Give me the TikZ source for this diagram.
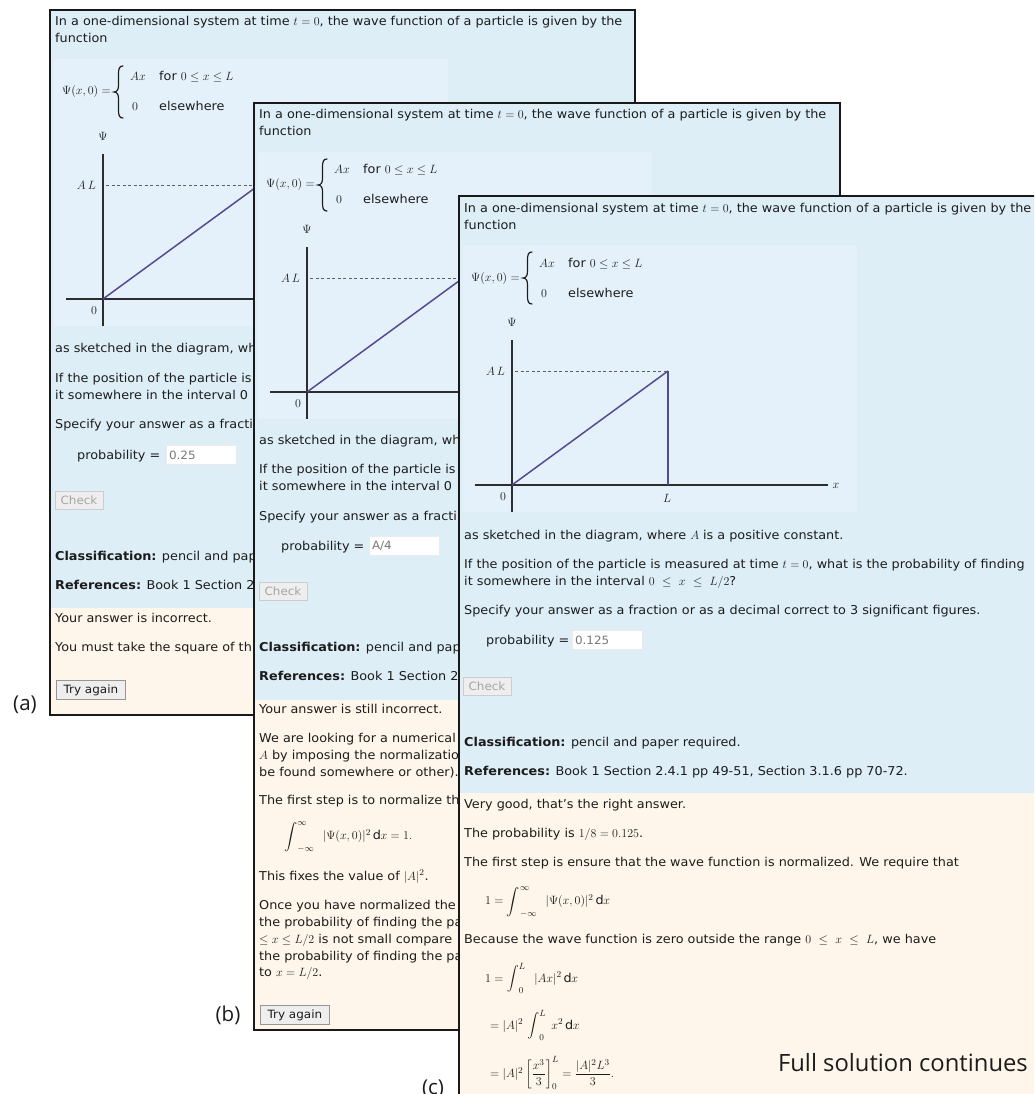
\documentclass[tikz,border=0pt]{standalone}
\usepackage{amsmath}
\usepackage{fontspec}
\setmainfont{DejaVu Sans}[FakeStretch=1.05]
\newfontfamily\labfont{Open Sans}
\definecolor{ink}{RGB}{28,28,28}
\definecolor{qblue}{RGB}{221,238,247}
\definecolor{qinner}{RGB}{229,241,250}
\definecolor{qcream}{RGB}{254,246,234}
\definecolor{wave}{RGB}{84,74,146}
\definecolor{dashc}{RGB}{95,95,95}
\definecolor{axisc}{RGB}{45,45,45}
\definecolor{btnfill}{RGB}{238,238,238}
\definecolor{btnline}{RGB}{150,150,150}
\definecolor{chkline}{RGB}{205,205,205}
\definecolor{chktext}{RGB}{165,165,165}
\definecolor{inptext}{RGB}{120,120,120}
\newcommand\qsz{\fontsize{12.2}{17}\selectfont}
\newcommand\bsz{\fontsize{11.4}{13}\selectfont}
\newcommand\Bint[1]{\mathop{\vcenter{\hbox{\scalebox{#1}{$\displaystyle\int$}}}}\nolimits}
\tikzset{
  txt/.style={anchor=base west, inner sep=0pt, font=\qsz, text=ink},
  lbl/.style={inner sep=0pt, font=\qsz, text=ink},
  mathline/.style={anchor=west, inner sep=0pt, text=ink, font=\qsz},
  panelframe/.style={draw=black!90, line width=1.7pt},
  axisline/.style={draw=axisc, line width=1.3pt},
  waveline/.style={draw=wave, line width=1.5pt},
  dashline/.style={draw=dashc, line width=0.8pt, dash pattern=on 3pt off 2.5pt},
  braceline/.style={draw=ink, line width=1.2pt, line cap=round},
  inputbox/.style={fill=white, draw=black!8, line width=0.4pt, minimum width=70pt, minimum height=19pt, inner sep=0pt},
  inptxt/.style={anchor=west, inner sep=0pt, font=\bsz, text=inptext},
  chkbtn/.style={fill=btnfill, draw=chkline, line width=0.8pt, minimum width=48pt, minimum height=18pt, inner sep=0pt, font=\bsz, text=chktext},
  trybtn/.style={fill=btnfill, draw=btnline, line width=0.8pt, minimum width=69pt, minimum height=19pt, inner sep=0pt, font=\bsz, text=ink},
  biglab/.style={inner sep=0pt, font=\labfont\fontsize{20.5}{24}\selectfont, text=ink},
}
\newcommand\qtop[1]{%
  \fill[qinner] (4,49) rectangle (398,316);
  \node[txt] (#1t1) at (5,16) {In a one-dimensional system at time $t=0$, the wave function of a particle is given by the};
  \node[txt] (#1t2) at (5,33) {function};
  \node[mathline] (#1psi) at (12,82) {$\Psi(x,0) =$};
  \draw[braceline] (73,56) .. controls (69,56) and (68.5,59) .. (68.5,65) -- (68.5,75)
     .. controls (68.5,79) and (67.5,82) .. (64,82)
     .. controls (67.5,82) and (68.5,85) .. (68.5,89) -- (68.5,99)
     .. controls (68.5,105) and (69,108) .. (73,108);
  \node[txt] (#1ax) at (80,71) {$Ax$};
  \node[txt] (#1for) at (109,71) {for $0\le x\le L$};
  \node[txt] (#1z) at (82,101) {$0$};
  \node[txt] (#1else) at (109,101) {elsewhere};
  \node[lbl] (#1Psi) at (53,126) {$\Psi$};
  \coordinate (#1top) at (53,144);
  \coordinate (#1bot) at (53,316);
  \coordinate (#1left) at (16,289);
  \coordinate (#1right) at (369,289);
  \coordinate (#1o) at (53,289);
  \coordinate (#1peak) at (209,175);
  \coordinate (#1dash) at (56,175);
  \draw[axisline] (#1top) -- (#1bot);
  \draw[axisline] (#1left) -- (#1right);
  \draw[dashline] (#1dash) -- (#1peak);
  \draw[waveline] (#1o) -- (#1peak);
  \node[lbl, anchor=east] (#1AL) at (46,175) {$A\,L$};
  \node[lbl] (#1zero) at (44,301) {$0$};
}
\begin{document}
\begin{tikzpicture}[x=1pt,y=-1pt]
\clip (0,0) rectangle (1034,1094);
\fill[white] (0,0) rectangle (1034,1094);

% ---------------- panel (a)
\begin{scope}[shift={(50,10)}]
  \fill[qblue] (0,0) rectangle (585,598);
  \fill[qcream] (0,598) rectangle (585,705);
  \qtop{a}
  \node[txt] (a3) at (5,342) {as sketched in the diagram, wh};
  \node[txt] (a4) at (5,372) {If the position of the particle is};
  \node[txt] (a5) at (5,389) {it somewhere in the interval 0};
  \node[txt] (a6) at (5,418) {Specify your answer as a fracti};
  \node[txt] (a7) at (27,449) {probability =};
  \node[inputbox] (ainp) at (151,445) {};
  \node[inptxt] (ainpt) at ([xshift=3pt]ainp.west) {0.25};
  \node[chkbtn] (achk) at (29,490) {Check};
  \node[txt] (a8) at (5,550) {\textbf{Classification:} pencil and pap};
  \node[txt] (a9) at (5,579) {\textbf{References:} Book 1 Section 2};
  \node[txt] (a10) at (5,612) {Your answer is incorrect.};
  \node[txt] (a11) at (5,641) {You must take the square of th};
  \node[trybtn, anchor=west] (atry) at (6,680) {Try again};
  \draw[panelframe] (0,0) rectangle (585,705);
\end{scope}

% ---------------- panel (b)
\begin{scope}[shift={(254,103)}]
  \fill[qblue] (0,0) rectangle (586,597);
  \fill[qcream] (0,597) rectangle (586,927);
  \qtop{b}
  \node[txt] (b3) at (5,341) {as sketched in the diagram, wh};
  \node[txt] (b4) at (5,370) {If the position of the particle is};
  \node[txt] (b5) at (5,387) {it somewhere in the interval 0};
  \node[txt] (b6) at (5,417) {Specify your answer as a fracti};
  \node[txt] (b7) at (27,447) {probability =};
  \node[inputbox] (binp) at (150,443) {};
  \node[inptxt] (binpt) at ([xshift=3pt]binp.west) {A/4};
  \node[chkbtn] (bchk) at (29,488) {Check};
  \node[txt] (b8) at (5,548) {\textbf{Classification:} pencil and pap};
  \node[txt] (b9) at (5,577) {\textbf{References:} Book 1 Section 2};
  \node[txt] (b10) at (5,610) {Your answer is still incorrect.};
  \node[txt] (b11) at (5,639) {We are looking for a numerical};
  \node[txt] (b12) at (5,656) {$A$ by imposing the normalizatio};
  \node[txt] (b13) at (5,673) {be found somewhere or other).};
  \node[txt] (b14) at (5,701) {The first step is to normalize th};
  \node[mathline] (beq) at (30,734) {$\Bint{1.1}_{-\infty}^{\infty}\;\;|\Psi(x,0)|^2\,\mathrm{d}x = 1.$};
  \node[txt] (b15) at (5,777) {This fixes the value of $|A|^2$.};
  \node[txt] (b16) at (5,806) {Once you have normalized the};
  \node[txt] (b17) at (5,823) {the probability of finding the pa};
  \node[txt] (b18) at (5,840) {$\le x \le L/2$ is not small compare};
  \node[txt] (b19) at (5,857) {the probability of finding the pa};
  \node[txt] (b20) at (5,873) {to $x = L/2$.};
  \node[trybtn, anchor=west] (btry) at (6,912) {Try again};
  \draw[panelframe] (0,0) rectangle (586,927);
\end{scope}

% ---------------- panel (c)
\begin{scope}[shift={(459,196)}]
  \fill[qblue] (0,0) rectangle (600,597);
  \fill[qcream] (0,597) rectangle (600,920);
  \qtop{c}
  \coordinate (cfoot) at (209,289);
  \draw[waveline] (cpeak) -- (cfoot);
  \node[lbl] (cL) at (208,302) {$L$};
  \node[lbl] (cx) at (377,290) {$x$};
  \node[txt] (c3) at (5,343) {as sketched in the diagram, where $A$ is a positive constant.};
  \node[txt] (c4) at (5,372) {If the position of the particle is measured at time $t=0$, what is the probability of finding};
  \node[txt] (c5) at (5,389) {it somewhere in the interval $0\ \le\ x\ \le\ L/2$?};
  \node[txt] (c6) at (5,418) {Specify your answer as a fraction or as a decimal correct to 3 significant figures.};
  \node[txt] (c7) at (27,448) {probability =};
  \node[inputbox] (cinp) at (148,444) {};
  \node[inptxt] (cinpt) at ([xshift=3pt]cinp.west) {0.125};
  \node[chkbtn] (cchk) at (28,490) {Check};
  \node[txt] (c8) at (5,550) {\textbf{Classification:} pencil and paper required.};
  \node[txt] (c9) at (5,579) {\textbf{References:} Book 1 Section 2.4.1 pp 49-51, Section 3.1.6 pp 70-72.};
  \node[txt] (c10) at (5,612) {Very good, that's the right answer.};
  \node[txt] (c11) at (5,641) {The probability is $1/8 = 0.125$.};
  \node[txt] (c12) at (5,670) {The first step is ensure that the wave function is normalized. We require that};
  \node[mathline] (ceq1) at (26,706) {$1 = \Bint{1.1}_{-\infty}^{\infty}\;\;|\Psi(x,0)|^2\,\mathrm{d}x$};
  \node[txt] (c13) at (5,747) {Because the wave function is zero outside the range $0\ \le\ x\ \le\ L$, we have};
  \node[mathline] (ceq2) at (26,782) {$1 = \Bint{1.0}_{0}^{L}\;\;|Ax|^2\,\mathrm{d}x$};
  \node[mathline] (ceq3) at (31,829) {$= |A|^2\,\Bint{1.0}_{0}^{L}\;x^2\,\mathrm{d}x$};
  \node[mathline] (ceq4) at (31,877) {$= |A|^2\left[\dfrac{x^3}{3}\right]_0^L = \dfrac{|A|^2L^3}{3}.$};
  \draw[panelframe] (0,0) rectangle (600,920);
\end{scope}

% ---------------- labels
\node[biglab] (laba) at (25,705) {(a)};
\node[biglab] (labb) at (228,1015) {(b)};
\node[biglab] (labc) at (433,1089) {(c)};
\node[inner sep=0pt, font=\labfont\fontsize{23.8}{28}\selectfont, text=ink, anchor=east] (full) at (1028,1063) {Full solution continues};
\end{tikzpicture}
\end{document}
